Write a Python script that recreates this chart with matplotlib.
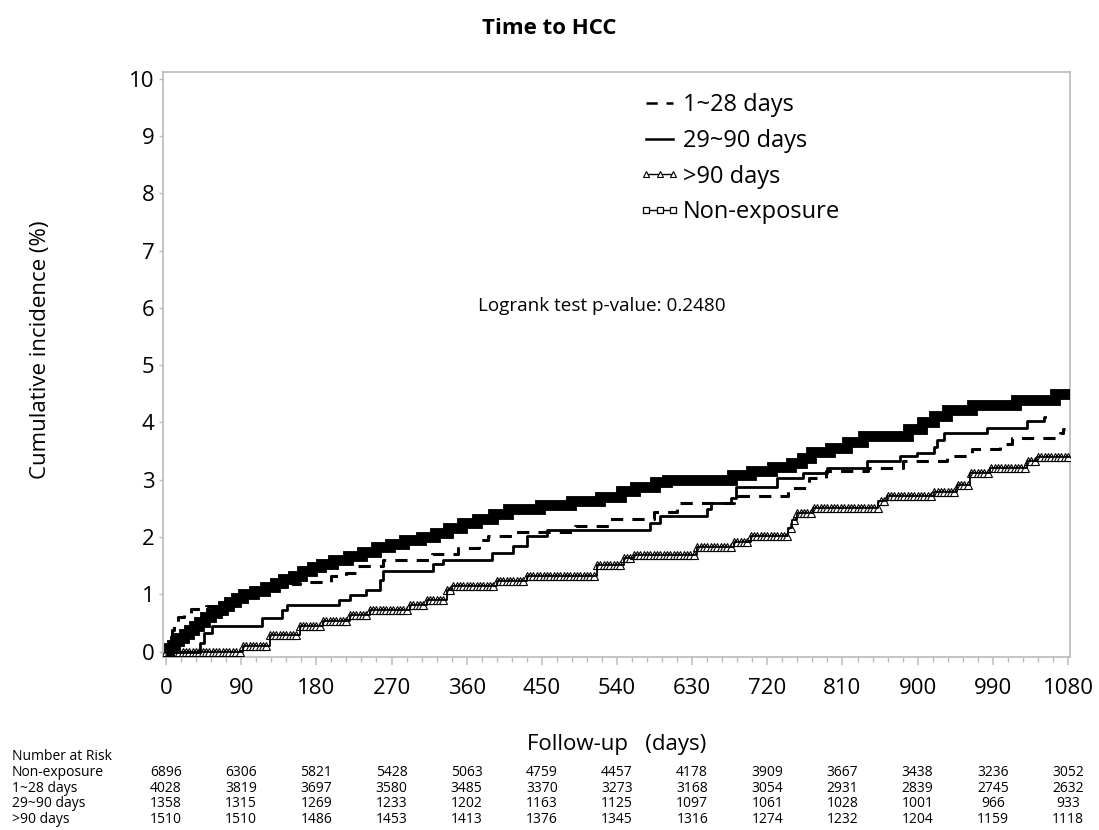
import numpy as np
import matplotlib
matplotlib.use('Agg')
import matplotlib.pyplot as plt
from matplotlib.lines import Line2D
from matplotlib.legend_handler import HandlerLine2D
from matplotlib.transforms import blended_transform_factory

plt.rcParams['font.family'] = ['Open Sans', 'DejaVu Sans']

# ---------------- data ----------------
# Non-exposure (step: value holds from day onward)
ne_days = [0, 3, 7, 11, 16, 21, 27, 33, 40, 47, 54, 61, 68, 76, 84, 92, 105, 118, 130, 140,
           152, 163, 175, 185, 200, 218, 235, 252, 268, 285, 305, 322, 338, 355, 372, 392,
           410, 448, 485, 520, 545, 562, 585, 600, 678, 700, 725, 748, 762, 772, 795, 815,
           835, 888, 905, 920, 935, 965, 1018, 1065, 1083]
ne_vals = [0, 0.06, 0.12, 0.18, 0.24, 0.30, 0.38, 0.45, 0.52, 0.60, 0.67, 0.73, 0.80, 0.87,
           0.94, 1.00, 1.06, 1.12, 1.20, 1.26, 1.32, 1.40, 1.47, 1.53, 1.60, 1.66, 1.74,
           1.82, 1.88, 1.94, 2.00, 2.07, 2.16, 2.24, 2.32, 2.40, 2.48, 2.55, 2.62, 2.70,
           2.80, 2.88, 2.96, 3.00, 3.08, 3.16, 3.22, 3.30, 3.38, 3.48, 3.56, 3.66, 3.76,
           3.88, 4.00, 4.12, 4.22, 4.30, 4.40, 4.50, 4.50]

# 1~28 days
d1_days = [0, 2, 4, 7, 10, 14, 22, 30, 48, 62, 78, 92, 110, 130, 150, 160, 197, 215, 230,
           260, 318, 350, 375, 385, 415, 490, 532, 584, 612, 680, 745, 770, 790, 840, 882,
           935, 965, 998, 1013, 1070, 1074, 1076]
d1_vals = [0, 0.12, 0.25, 0.38, 0.50, 0.60, 0.68, 0.74, 0.80, 0.86, 0.93, 1.00, 1.05, 1.12,
           1.18, 1.22, 1.31, 1.37, 1.50, 1.60, 1.70, 1.80, 1.95, 2.01, 2.08, 2.20, 2.32,
           2.43, 2.59, 2.71, 2.85, 3.03, 3.15, 3.20, 3.32, 3.42, 3.53, 3.62, 3.73, 3.82,
           3.88, 3.88]

# 29~90 days
d2_days = [0, 41, 45, 55, 115, 139, 145, 207, 220, 240, 256, 260, 320, 332, 390, 416, 432,
           456, 580, 592, 648, 652, 676, 683, 731, 763, 791, 839, 879, 899, 919, 923, 931,
           983, 1031, 1051, 1053]
d2_vals = [0, 0.15, 0.32, 0.45, 0.58, 0.73, 0.82, 0.90, 0.99, 1.08, 1.25, 1.40, 1.52, 1.60,
           1.72, 1.84, 2.01, 2.13, 2.24, 2.37, 2.48, 2.60, 2.68, 2.88, 3.03, 3.12, 3.21,
           3.32, 3.41, 3.47, 3.58, 3.70, 3.82, 3.90, 4.02, 4.10, 4.10]

# >90 days
d3_days = [0, 92, 124, 160, 188, 220, 244, 292, 312, 336, 342, 396, 432, 516, 548, 560, 636,
           680, 700, 745, 750, 755, 775, 853, 863, 919, 947, 963, 987, 1031, 1043, 1083]
d3_vals = [0, 0.09, 0.29, 0.44, 0.53, 0.64, 0.72, 0.81, 0.90, 1.08, 1.14, 1.23, 1.32, 1.51,
           1.63, 1.69, 1.82, 1.92, 2.01, 2.15, 2.30, 2.42, 2.50, 2.62, 2.72, 2.79, 2.91,
           3.12, 3.20, 3.32, 3.40, 3.40]

# Number at risk
risk_times = [0, 90, 180, 270, 360, 450, 540, 630, 720, 810, 900, 990, 1080]
risk_labels = ['Non-exposure', '1~28 days', '29~90 days', '>90 days']
risk_nonexp = [6896, 6306, 5821, 5428, 5063, 4759, 4457, 4178, 3909, 3667, 3438, 3236, 3052]
risk_1_28 = [4028, 3819, 3697, 3580, 3485, 3370, 3273, 3168, 3054, 2931, 2839, 2745, 2632]
risk_29_90 = [1358, 1315, 1269, 1233, 1202, 1163, 1125, 1097, 1061, 1028, 1001, 966, 933]
risk_gt90 = [1510, 1510, 1486, 1453, 1413, 1376, 1345, 1316, 1274, 1232, 1204, 1159, 1118]

legend_labels = ['1~28 days', '29~90 days', '>90 days', 'Non-exposure']

# ---------------- figure ----------------
W, H = 1099, 830
fig = plt.figure(figsize=(W / 100, H / 100), dpi=100)
L, R, T, B = 163, 1070, 72, 657
ax = fig.add_axes([L / W, 1 - B / H, (R - L) / W, (B - T) / H])

axis_grey = '#b4bcc2'

# >90 days: line with dense open triangles (censoring marks)
d3d = np.array(d3_days)
d3v = np.array(d3_vals)
grid = np.arange(0, d3d[-1] + 1, 4)
idx = np.searchsorted(d3d, grid, side='right') - 1
ax.plot(grid, d3v[idx], ls='none', marker='^', ms=5.5, mfc='white', mec='black',
        mew=0.8, zorder=3)
ax.step(d3_days, d3_vals, where='post', color='black', lw=1.3, zorder=4)

# 29~90 days: solid
ax.step(d2_days, d2_vals, where='post', color='black', lw=2.0, zorder=4)

# 1~28 days: dashed
ax.step(d1_days, d1_vals, where='post', color='black', lw=2.2, ls=(0, (4, 3)), zorder=4)

# Non-exposure: thick band
ln, = ax.step(ne_days, ne_vals, where='post', color='black', lw=7.8, zorder=5)
ln.set_solid_joinstyle('miter')
ln.set_solid_capstyle('butt')

ax.set_xlim(-3.6, 1082.4)
ax.set_ylim(-0.096, 10.12)
ax.set_xticks(risk_times)
ax.set_xticks(np.arange(0, 1081, 18), minor=True)
ax.set_yticks(range(0, 11))

for s in ax.spines.values():
    s.set_color(axis_grey)
    s.set_linewidth(1.2)
ax.tick_params(axis='x', which='major', length=6, width=1.1, color=axis_grey,
               labelsize=16, pad=9)
ax.tick_params(axis='x', which='minor', length=3.5, width=1.0, color=axis_grey)
ax.tick_params(axis='y', which='major', length=3, width=1.0, color=axis_grey,
               labelsize=16, pad=3)

ax.set_xlabel('Follow-up   (days)', fontsize=16, labelpad=0)
ax.xaxis.set_label_coords(0.5, -0.131)
ax.set_ylabel('Cumulative incidence (%)', fontsize=16)
ax.yaxis.set_label_coords(-0.124, 0.525)

fig.text(0.5, 1 - 28 / H, 'Time to HCC', ha='center', va='center', fontsize=16,
         fontweight='bold')

ax.text(374, 6.03, 'Logrank test p-value: 0.2480', fontsize=13.6, ha='left', va='center')

# legend
handles = [
    Line2D([], [], color='black', lw=1.8, ls=(0, (4.5, 3.5))),
    Line2D([], [], color='black', lw=1.8),
    Line2D([], [], color='black', lw=1.0, marker='^', ms=5, mfc='white', mec='black', mew=0.8),
    Line2D([], [], color='black', lw=1.0, marker='s', ms=5, mfc='white', mec='black', mew=0.9),
]
leg = ax.legend(handles, legend_labels, loc='upper left',
                bbox_to_anchor=(643 / W, 1 - 93 / H), bbox_transform=fig.transFigure,
                frameon=False, fontsize=17, handlelength=1.4, handletextpad=0.3,
                labelspacing=0.5, numpoints=3, borderaxespad=0, borderpad=0,
                handler_map={Line2D: HandlerLine2D(marker_pad=0.12)})

# number at risk table
tr = blended_transform_factory(ax.transData, fig.transFigure)
fig.text(12 / W, 1 - 757 / H, 'Number at Risk', fontsize=10, ha='left', va='center')
rows = [risk_nonexp, risk_1_28, risk_29_90, risk_gt90]
row_y = [772, 788, 803, 819]
for lab, vals, yp in zip(risk_labels, rows, row_y):
    fig.text(12 / W, 1 - yp / H, lab, fontsize=10, ha='left', va='center')
    for t, v in zip(risk_times, vals):
        fig.text(t, 1 - yp / H, str(v), fontsize=10, ha='center', va='center',
                 transform=tr)

fig.savefig('out.png', dpi=100)
